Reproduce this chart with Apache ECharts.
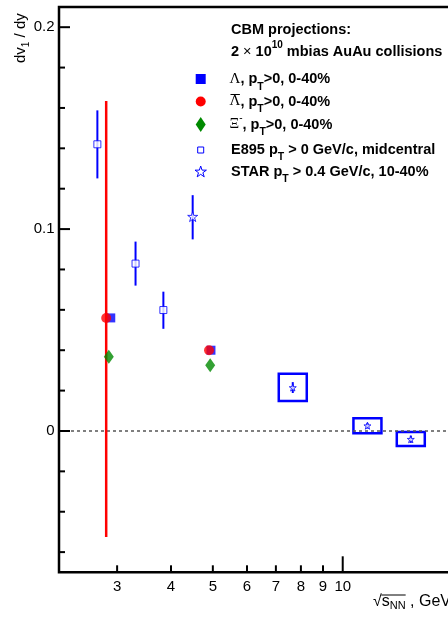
<!DOCTYPE html>
<html><head><meta charset="utf-8">
<script src="https://cdn.jsdelivr.net/npm/echarts@6/dist/echarts.min.js"></script>
<style>html,body{margin:0;padding:0;overflow:hidden;background:#fff;width:448px;height:619px}#c{width:520px;height:619px}</style>
</head><body><div id="c"></div>
<script>
// ---------- data ----------
const xTickValues = [3, 4, 5, 6, 7, 8, 9, 10];
const xTickLabels = ['3', '4', '5', '6', '7', '8', '9', '10'];
const yMajorTicks = [0, 0.1, 0.2];
const yTickLabels = ['0', '0.1', '0.2'];
const yMinorTicks = [-0.06, -0.04, -0.02, 0.02, 0.04, 0.06, 0.08, 0.12, 0.14, 0.16, 0.18];

// CBM projections
const lambdaX = [2.90, 4.95];
const lambdaY = [0.056, 0.040];
const antiLambdaX = [2.83, 4.90];
const antiLambdaY = [0.056, 0.040];
const antiLambdaErrLow = [-0.0525, 0.040];
const antiLambdaErrHigh = [0.1634, 0.040];
const xiX = [2.87, 4.93];
const xiY = [0.0368, 0.0326];

// E895
const e895X = [2.70, 3.31, 3.84];
const e895Y = [0.142, 0.0829, 0.0599];
const e895ErrLow = [0.1251, 0.0720, 0.0506];
const e895ErrHigh = [0.1588, 0.0938, 0.0690];

// STAR
const starX = [4.49, 7.66, 11.41, 14.38];
const starY = [0.1062, 0.0215, 0.0026, -0.0041];
const starErrLow = [0.0949, 0.0188, 0.0012, -0.0059];
const starErrHigh = [0.1168, 0.0242, 0.0040, -0.0023];
const starBoxX = [7.66, 11.41, 14.38];
const starSysLow = [0.0149, -0.0011, -0.0074];
const starSysHigh = [0.0283, 0.0063, -0.0005];

// ---------- layout ----------
const X_MIN = 2.2, X_MAX = 20, Y_MIN = -0.07, Y_MAX = 0.21;
const BLUE = '#0000ff', RED = '#ff0000', GREEN = '#008a00';
const STAR_PATH = 'path://M10,0 L12.233,6.926 L19.511,6.91 L13.614,11.174 L15.878,18.09 L10,13.8 L4.122,18.09 L6.386,11.174 L0.489,6.91 L7.767,6.926 Z';
const SANS = '"Liberation Sans", Arial, sans-serif';
const SERIF = '"Liberation Serif", "DejaVu Serif", serif';

const ctx = document.createElement('canvas').getContext('2d');
function tw(text, font) { ctx.font = font; return ctx.measureText(text).width; }
function richLine(x, y, parts) {
  const els = []; let cx = x;
  parts.forEach(pt => {
    const w = tw(pt.t, pt.f);
    els.push({ type: 'text', x: cx, y: y + (pt.dy || 0),
      style: { text: pt.t, font: pt.f, fill: '#000', align: 'left', verticalAlign: 'middle' } });
    if (pt.over !== undefined) els.push({ type: 'line', shape: { x1: cx + 1, y1: y + pt.over, x2: cx + w - 0.5, y2: y + pt.over }, style: { stroke: '#000', lineWidth: 1 } });
    cx += w;
  });
  return els;
}

function errBar(xs, lo, hi, color, width, z) {
  return { type: 'custom', coordinateSystem: 'cartesian2d', z: z, silent: true, clip: false,
    data: xs.map((x, i) => [x, lo[i], hi[i]]), encode: { x: 0, y: [1, 2] },
    renderItem: (p, api) => {
      const a = api.coord([api.value(0), api.value(1)]);
      const b = api.coord([api.value(0), api.value(2)]);
      return { type: 'line', shape: { x1: a[0], y1: a[1], x2: b[0], y2: b[1] }, style: { stroke: color, lineWidth: width } };
    } };
}

const B = 'bold 14.5px ' + SANS;
const BSUB = 'bold 10.5px ' + SANS;
const G = '15px ' + SERIF;
const LX = 231;
const legendRows = [
  [30, [{ t: 'CBM projections:', f: B }]],
  [51.5, [{ t: '2 ', f: B }, { t: '\u00d7', f: '14.5px ' + SANS }, { t: ' 10', f: B }, { t: '10', f: 'bold 10px ' + SANS, dy: -6 }, { t: ' mbias AuAu collisions', f: B }]],
  [79, [{ t: '\u039b', f: G }, { t: ', p', f: B }, { t: 'T', f: BSUB, dy: 8 }, { t: '>0, 0-40%', f: B }]],
  [101.5, [{ t: '\u039b', f: G, over: -7 }, { t: ', p', f: B }, { t: 'T', f: BSUB, dy: 8 }, { t: '>0, 0-40%', f: B }]],
  [124.5, [{ t: '\u039e', f: G }, { t: '-', f: '10px ' + SANS, dy: -6 }, { t: ', p', f: B }, { t: 'T', f: BSUB, dy: 8 }, { t: '>0, 0-40%', f: B }]],
  [149.5, [{ t: 'E895 p', f: B }, { t: 'T', f: BSUB, dy: 8 }, { t: ' > 0 GeV/c, midcentral', f: B }]],
  [171.5, [{ t: 'STAR p', f: B }, { t: 'T', f: BSUB, dy: 8 }, { t: ' > 0.4 GeV/c, 10-40%', f: B }]]
];
const graphics = [];
legendRows.forEach(r => { graphics.push(...richLine(r[0] >= 79 && r[0] < 130 ? LX - 1.5 : LX, r[0], r[1])); });
// legend symbols
const SX = 200.7;
graphics.push({ type: 'rect', shape: { x: SX - 5, y: 74, width: 10, height: 10 }, style: { fill: BLUE } });
graphics.push({ type: 'circle', shape: { cx: SX, cy: 101.5, r: 5 }, style: { fill: RED } });
graphics.push({ type: 'polygon', shape: { points: [[SX, 117], [SX + 5, 124.5], [SX, 132], [SX - 5, 124.5]] }, style: { fill: GREEN } });
graphics.push({ type: 'rect', shape: { x: SX - 3, y: 147, width: 6, height: 6 }, style: { fill: '#fff', stroke: BLUE, lineWidth: 1 } });
(function () {
  const pts = []; for (let k = 0; k < 10; k++) { const a = -Math.PI / 2 + k * Math.PI / 5; const r = k % 2 ? 2.3 : 6; pts.push([SX + r * Math.cos(a), 172 + r * Math.sin(a)]); }
  graphics.push({ type: 'polygon', shape: { points: pts }, style: { fill: '#fff', stroke: BLUE, lineWidth: 1 } });
})();
// y title (rotated)
graphics.push({ type: 'group', x: 21, y: 63, rotation: Math.PI / 2,
  children: richLine(0, 0, [{ t: 'dv', f: '15px ' + SANS }, { t: '1', f: '10px ' + SANS, dy: 5 }, { t: ' / dy', f: '15px ' + SANS }]) });
// x title
(function () {
  const R = '16px ' + SANS, S = '11px ' + SANS;
  const els = richLine(373, 602, [{ t: '\u221a', f: R }, { t: 's', f: R }, { t: 'NN', f: S, dy: 4 }, { t: ' , GeV', f: R }]);
  const x0 = 373 + tw('\u221a', R) - 0.5, x1 = 373 + tw('\u221as', R) + tw('NN', S);
  els.push({ type: 'line', shape: { x1: x0, y1: 595, x2: x1, y2: 595 }, style: { stroke: '#000', lineWidth: 1 } });
  graphics.push(...els);
})();

const option = {
  animation: false,
  grid: { left: 59, top: 7, width: 413.6, height: 565.3, show: true, borderColor: '#000', borderWidth: 2.5, containLabel: false, outerBoundsMode: 'none' },
  xAxis: { type: 'log', logBase: 10, min: X_MIN, max: X_MAX, axisLine: { show: false }, axisTick: { show: false }, axisLabel: { show: false }, splitLine: { show: false }, minorTick: { show: false }, minorSplitLine: { show: false } },
  yAxis: { type: 'value', min: Y_MIN, max: Y_MAX, axisLine: { show: false }, axisTick: { show: false }, axisLabel: { show: false }, splitLine: { show: false } },
  graphic: graphics,
  series: [
    // x ticks & labels
    { type: 'custom', coordinateSystem: 'cartesian2d', clip: false, silent: true, z: 20,
      data: xTickValues.map(v => [v, Y_MIN]), encode: { x: 0, y: 1 },
      renderItem: (p, api) => {
        const v = api.value(0); const pt = api.coord([v, api.value(1)]); const len = v === 10 ? 16 : 7;
        return { type: 'group', children: [
          { type: 'line', shape: { x1: pt[0], y1: pt[1], x2: pt[0], y2: pt[1] - len }, style: { stroke: '#000', lineWidth: 2 } },
          { type: 'text', x: pt[0], y: pt[1] + 14.5, style: { text: xTickLabels[p.dataIndex], font: '15px ' + SANS, fill: '#000', align: 'center', verticalAlign: 'middle' } }] };
      } },
    // y major ticks & labels
    { type: 'custom', coordinateSystem: 'cartesian2d', clip: false, silent: true, z: 20,
      data: yMajorTicks.map(v => [X_MIN, v]), encode: { x: 0, y: 1 },
      renderItem: (p, api) => {
        const pt = api.coord([api.value(0), api.value(1)]);
        return { type: 'group', children: [
          { type: 'line', shape: { x1: pt[0], y1: pt[1], x2: pt[0] + 11, y2: pt[1] }, style: { stroke: '#000', lineWidth: 2 } },
          { type: 'text', x: pt[0] - 4.5, y: pt[1], style: { text: yTickLabels[p.dataIndex], font: '15px ' + SANS, fill: '#000', align: 'right', verticalAlign: 'middle' } }] };
      } },
    // y minor ticks
    { type: 'custom', coordinateSystem: 'cartesian2d', clip: false, silent: true, z: 20,
      data: yMinorTicks.map(v => [X_MIN, v]), encode: { x: 0, y: 1 },
      renderItem: (p, api) => {
        const pt = api.coord([api.value(0), api.value(1)]);
        return { type: 'line', shape: { x1: pt[0], y1: pt[1], x2: pt[0] + 6, y2: pt[1] }, style: { stroke: '#000', lineWidth: 2 } };
      } },
    // STAR systematic boxes
    { type: 'custom', coordinateSystem: 'cartesian2d', silent: true, z: 3,
      data: starBoxX.map((x, i) => [x, starSysLow[i], starSysHigh[i]]), encode: { x: 0, y: [1, 2] },
      renderItem: (p, api) => {
        const a = api.coord([api.value(0), api.value(1)]); const b = api.coord([api.value(0), api.value(2)]);
        return { type: 'rect', shape: { x: a[0] - 14, y: b[1], width: 28, height: a[1] - b[1] }, style: { fill: 'none', stroke: BLUE, lineWidth: 2.5 } };
      },
      markLine: { silent: true, symbol: 'none', label: { show: false }, lineStyle: { type: [3, 3], color: '#555', width: 1.5 }, data: [{ yAxis: 0 }] } },
    errBar(e895X, e895ErrLow, e895ErrHigh, BLUE, 2, 4),
    errBar(starX, starErrLow, starErrHigh, BLUE, 2, 4),
    { type: 'scatter', name: 'E895', z: 5, symbol: 'rect', symbolSize: 7, data: e895X.map((x, i) => [x, e895Y[i]]),
      itemStyle: { color: '#fff', borderColor: BLUE, borderWidth: 1 } },
    { type: 'scatter', name: 'STAR', z: 5, symbol: STAR_PATH, symbolSize: (v, p) => (p.dataIndex === 0 ? 10 : 7),
      data: starX.map((x, i) => [x, starY[i]]),
      itemStyle: { color: '#fff', borderColor: BLUE, borderWidth: 1 } },
    { type: 'scatter', name: 'Lambda', z: 6, symbol: 'rect', symbolSize: 9, data: lambdaX.map((x, i) => [x, lambdaY[i]]),
      itemStyle: { color: BLUE } },
    errBar(antiLambdaX, antiLambdaErrLow, antiLambdaErrHigh, RED, 2.5, 7),
    { type: 'scatter', name: 'antiLambda', z: 8, symbol: 'circle', symbolSize: 10, data: antiLambdaX.map((x, i) => [x, antiLambdaY[i]]),
      itemStyle: { color: RED } },
    { type: 'scatter', name: 'Xi', z: 9, symbol: 'diamond', symbolSize: [10, 14], data: xiX.map((x, i) => [x, xiY[i]]),
      itemStyle: { color: GREEN } }
  ]
};
const chart = echarts.init(document.getElementById('c'), null, { renderer: 'canvas' });
chart.setOption(option);
</script></body></html>
